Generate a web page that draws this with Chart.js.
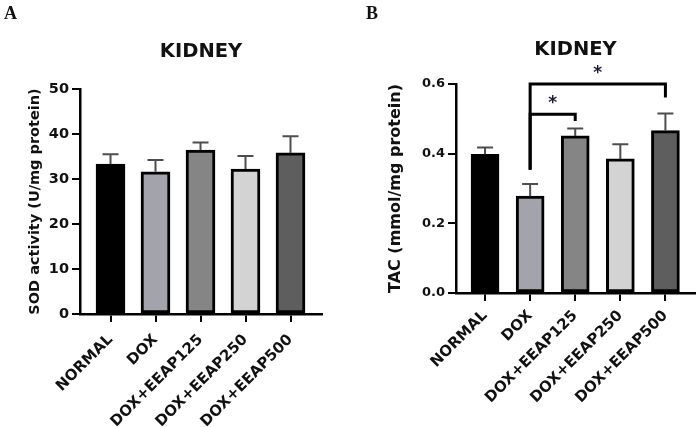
<!DOCTYPE html>
<html>
<head>
<meta charset="utf-8">
<script src="https://cdn.jsdelivr.net/npm/chart.js@4.4.1/dist/chart.umd.min.js"></script>
<style>
  html, body { margin: 0; padding: 0; background: #fff; }
  #page { position: relative; width: 699px; height: 427px; overflow: hidden; }
  .panel { position: absolute; top: 0; height: 427px; }
  .letter { position: absolute; top: 4px; font: bold 18px "Liberation Serif", "DejaVu Serif", serif; color: #111; line-height: 18px; }
</style>
</head>
<body>
<div id="page">
  <div class="panel" style="left:0;width:350px"><canvas id="chartA"></canvas></div>
  <div class="panel" style="left:350px;width:349px"><canvas id="chartB"></canvas></div>
  <div class="letter" style="left:4px">A</div>
  <div class="letter" style="left:366px">B</div>
</div>
<script>
// ---- data ----
const groups = ["NORMAL", "DOX", "DOX+EEAP125", "DOX+EEAP250", "DOX+EEAP500"];

// panel A : SOD activity
const sodMean = [33.3, 31.6, 36.4, 32.2, 35.8];
const sodSem = [2.2, 2.6, 1.7, 2.9, 3.7];
const sodTicks = [0, 10, 20, 30, 40, 50];

// panel B : TAC
const tacMean = [0.398, 0.278, 0.451, 0.385, 0.466];
const tacSem = [0.020, 0.035, 0.021, 0.042, 0.049];
const tacTicks = [0.0, 0.2, 0.4, 0.6];

// significance brackets on panel B (group index from -> to)
const tacCompFrom = [1, 1];
const tacCompTo = [2, 4];
const tacCompLabel = ["*", "*"];

const barFill = ["#000000", "#a3a3ab", "#858585", "#d3d3d3", "#5e5e5e"];
const FONT = "'DejaVu Sans', sans-serif";

// error bars (upper half only, like the original)
const errorBars = {
  id: "errorBars",
  afterDatasetsDraw(chart, args, opts) {
    const { ctx } = chart;
    const y = chart.scales.y;
    const meta = chart.getDatasetMeta(0);
    ctx.save();
    ctx.strokeStyle = "#4d4d4d";
    ctx.lineWidth = 2;
    meta.data.forEach((bar, i) => {
      const top = y.getPixelForValue(opts.mean[i] + opts.sem[i]);
      ctx.beginPath();
      ctx.moveTo(bar.x, bar.y);
      ctx.lineTo(bar.x, top);
      ctx.moveTo(bar.x - 8, top);
      ctx.lineTo(bar.x + 8, top);
      ctx.stroke();
    });
    ctx.restore();
  }
};

// brackets with stars
const sigBrackets = {
  id: "sigBrackets",
  afterDraw(chart, args, opts) {
    if (!opts.from) return;
    const { ctx } = chart;
    const xs = chart.scales.x, ys = chart.scales.y;
    ctx.save();
    ctx.strokeStyle = "#000";
    ctx.lineWidth = 3;
    ctx.lineJoin = "miter";
    opts.from.forEach((f, k) => {
      const x1 = xs.getPixelForValue(f);
      const x2 = xs.getPixelForValue(opts.to[k]);
      const yl = ys.getPixelForValue(opts.level[k]);
      const yd = ys.getPixelForValue(opts.drop[k]);
      const yb = ys.getPixelForValue(opts.leg);
      ctx.beginPath();
      ctx.moveTo(x1, yb);
      ctx.lineTo(x1, yl);
      ctx.lineTo(x2, yl);
      ctx.lineTo(x2, yd);
      ctx.stroke();
      ctx.fillStyle = "#1c1c3a";
      ctx.font = "bold 17px " + FONT;
      ctx.textAlign = "center";
      ctx.textBaseline = "alphabetic";
      const m = ctx.measureText(opts.label[k]);
      const cy = yl - 15;
      ctx.fillText(opts.label[k], (x1 + x2) / 2, cy + (m.actualBoundingBoxAscent - m.actualBoundingBoxDescent) / 2);
    });
    ctx.restore();
  }
};

function makePanel(canvasId, cfg) {
  return new Chart(document.getElementById(canvasId), {
    type: "bar",
    data: {
      datasets: [{
        data: cfg.mean.map((v, i) => ({ x: i, y: v })),
        backgroundColor: barFill,
        borderColor: "#000",
        borderWidth: 3,
        borderSkipped: false,
        barThickness: cfg.barWidth
      }]
    },
    options: {
      responsive: true,
      maintainAspectRatio: false,
      animation: false,
      layout: { padding: { left: 0, right: cfg.padRight, top: 0, bottom: 0 } },
      plugins: {
        legend: { display: false },
        tooltip: { enabled: false },
        title: {
          display: true,
          fullSize: false,
          text: "KIDNEY",
          color: "#111",
          font: { family: FONT, size: 19.5, weight: "bold" },
          padding: { top: cfg.titleTop, bottom: cfg.titleBottom }
        },
        errorBars: { mean: cfg.mean, sem: cfg.sem },
        sigBrackets: cfg.brackets || {}
      },
      scales: {
        x: {
          type: "linear",
          min: cfg.xMin,
          max: cfg.xMax,
          offset: false,
          afterFit: s => { s.height = cfg.xHeight; },
          grid: { display: true, offset: false, drawOnChartArea: false, drawTicks: true, tickLength: 8, color: "#000", lineWidth: 2 },
          border: { display: true, color: "#000", width: 2.5 },
          ticks: {
            stepSize: 1,
            includeBounds: false,
            autoSkip: false,
            minRotation: 45,
            maxRotation: 45,
            padding: cfg.xPad,
            color: "#111",
            font: { family: FONT, size: 15, weight: "bold" },
            callback: v => groups[v]
          }
        },
        y: {
          min: cfg.ticks[0],
          max: cfg.ticks[cfg.ticks.length - 1],
          afterFit: s => { s.width = cfg.yWidth; },
          afterBuildTicks: s => { s.ticks = cfg.ticks.map(v => ({ value: v })); },
          grid: { display: true, drawOnChartArea: false, drawTicks: true, tickLength: 8, color: "#000", lineWidth: 2 },
          border: { display: true, color: "#000", width: 2.5 },
          ticks: {
            padding: 3,
            color: "#111",
            font: { family: FONT, size: cfg.tickSize, weight: "bold" },
            callback: cfg.tickFmt
          },
          title: {
            display: true,
            text: cfg.yTitle,
            color: "#111",
            font: { family: FONT, size: cfg.yTitleSize, weight: "bold" },
            padding: { top: cfg.yTitlePad, bottom: 0 }
          }
        }
      }
    },
    plugins: [errorBars, sigBrackets]
  });
}

makePanel("chartA", {
  mean: sodMean, sem: sodSem, ticks: sodTicks,
  tickFmt: v => v.toString(),
  yTitle: "SOD activity (U/mg protein)",
  barWidth: 29, padRight: 28,
  xMin: -0.678, xMax: 4.7, xHeight: 113, xPad: 9,
  yWidth: 80, tickSize: 14.5, yTitleSize: 14.5, yTitlePad: 27,
  titleTop: 40, titleBottom: 25.6
});

makePanel("chartB", {
  mean: tacMean, sem: tacSem, ticks: tacTicks,
  tickFmt: v => v.toFixed(1),
  yTitle: "TAC (mmol/mg protein)",
  barWidth: 28, padRight: 4,
  xMin: -0.644, xMax: 4.656, xHeight: 134, xPad: 6,
  yWidth: 106, tickSize: 13, yTitleSize: 16, yTitlePad: 36,
  titleTop: 38, titleBottom: 22.6,
  brackets: {
    from: tacCompFrom, to: tacCompTo, label: tacCompLabel,
    level: [0.513, 0.6], drop: [0.494, 0.561], leg: 0.354
  }
});
</script>
</body>
</html>
